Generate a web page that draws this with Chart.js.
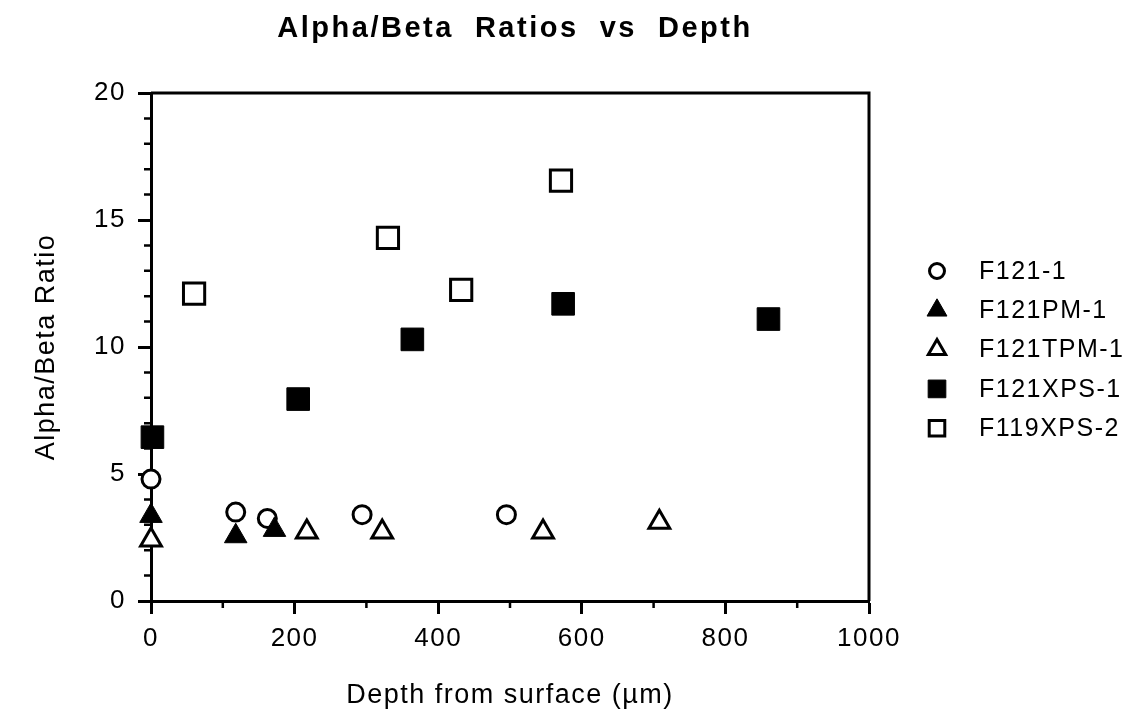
<!DOCTYPE html>
<html>
<head>
<meta charset="utf-8">
<title>Alpha/Beta Ratios vs Depth</title>
<script src="https://cdn.jsdelivr.net/npm/chart.js@4.4.1/dist/chart.umd.min.js"></script>
<style>
  html, body { margin: 0; padding: 0; background: #fff; }
  #wrap { width: 1129px; height: 712px; }
</style>
</head>
<body>
<div id="wrap"><canvas id="chart" width="1129" height="712"></canvas></div>
<script>
// values
const titleText = 'Alpha/Beta  Ratios  vs  Depth';
const xTitle = 'Depth from surface (\u00b5m)';
const yTitle = 'Alpha/Beta Ratio';

const seriesNames = ['F121-1', 'F121PM-1', 'F121TPM-1', 'F121XPS-1', 'F119XPS-2'];

const depthF121_1 = [0, 118, 162, 294, 495];
const ratioF121_1 = [4.8, 3.5, 3.25, 3.4, 3.4];

const depthF121PM_1 = [0, 118, 172];
const ratioF121PM_1 = [3.35, 2.55, 2.8];

const depthF121TPM_1 = [0, 217, 322, 546, 708];
const ratioF121TPM_1 = [2.4, 2.72, 2.72, 2.72, 3.1];

const depthF121XPS_1 = [2, 205, 364, 574, 860];
const ratioF121XPS_1 = [6.45, 7.95, 10.3, 11.7, 11.1];

const depthF119XPS_2 = [60, 330, 432, 571];
const ratioF119XPS_2 = [12.1, 14.3, 12.25, 16.55];

const xMajorTicks = [0, 200, 400, 600, 800, 1000];
const xMinorTicks = [100, 300, 500, 700, 900];
const yMajorTicks = [0, 5, 10, 15, 20];
const yMinorTicks = [1, 2, 3, 4, 6, 7, 8, 9, 11, 12, 13, 14, 16, 17, 18, 19];

const FONT = "'Liberation Sans', Arial, Helvetica, sans-serif";

function toPoints(xs, ys) {
  return xs.map((x, i) => ({ x: x, y: ys[i] }));
}

const common = { showLine: false, clip: false, borderColor: '#000' };

const datasets = [
  { ...common, label: seriesNames[0], data: toPoints(depthF121_1, ratioF121_1),
    pointStyle: 'circle', pointRadius: 9, borderWidth: 3, backgroundColor: '#fff', order: 1, legendRadius: 7.5 },
  { ...common, label: seriesNames[1], data: toPoints(depthF121PM_1, ratioF121PM_1),
    pointStyle: 'triangle', pointRadius: 13, borderWidth: 1, backgroundColor: '#000', order: 0, legendRadius: 11.5 },
  { ...common, label: seriesNames[2], data: toPoints(depthF121TPM_1, ratioF121TPM_1),
    pointStyle: 'triangle', pointRadius: 12, borderWidth: 3, backgroundColor: '#fff', order: 0, legendRadius: 10 },
  { ...common, label: seriesNames[3], data: toPoints(depthF121XPS_1, ratioF121XPS_1),
    pointStyle: 'rect', pointRadius: 16, borderWidth: 1, backgroundColor: '#000', order: 0, legendRadius: 12.5 },
  { ...common, label: seriesNames[4], data: toPoints(depthF119XPS_2, ratioF119XPS_2),
    pointStyle: 'rect', pointRadius: 15, borderWidth: 3, backgroundColor: '#fff', order: 0, legendRadius: 11 }
];

// the old figure has loosely spaced lettering
const spacing = {
  id: 'spacing',
  beforeLayout(chart) { chart.ctx.letterSpacing = '1.5px'; },
  beforeDraw(chart) { chart.ctx.letterSpacing = '1.5px'; }
};

// box frame, minor ticks, title and legend
const decor = {
  id: 'decor',
  beforeDatasetsDraw(chart) {
    const { ctx, chartArea: a, scales } = chart;
    ctx.save();
    ctx.strokeStyle = '#000';
    ctx.lineWidth = 3;
    ctx.beginPath();
    ctx.moveTo(a.left, a.top);
    ctx.lineTo(a.right, a.top);
    ctx.lineTo(a.right, a.bottom);
    ctx.stroke();

    ctx.lineWidth = 2.5;
    ctx.beginPath();
    xMinorTicks.forEach(v => {
      const px = scales.x.getPixelForValue(v);
      ctx.moveTo(px, a.bottom);
      ctx.lineTo(px, a.bottom + 7);
    });
    yMinorTicks.forEach(v => {
      const py = scales.y.getPixelForValue(v);
      ctx.moveTo(a.left, py);
      ctx.lineTo(a.left - 7, py);
    });
    ctx.stroke();
    ctx.restore();
  },
  afterDraw(chart) {
    const { ctx, chartArea: a } = chart;
    ctx.save();
    ctx.fillStyle = '#000';

    // title
    ctx.font = 'bold 29px ' + FONT;
    ctx.letterSpacing = '2.5px';
    ctx.textAlign = 'center';
    ctx.textBaseline = 'alphabetic';
    ctx.fillText(titleText, (a.left + a.right) / 2 + 5, 37);

    // legend
    ctx.letterSpacing = '1.5px';
    ctx.font = '25px ' + FONT;
    ctx.textAlign = 'left';
    ctx.textBaseline = 'middle';
    chart.data.datasets.forEach((ds, i) => {
      const y = 271 + i * 39.3;
      const mx = a.right + 68;
      ctx.fillStyle = ds.backgroundColor;
      ctx.strokeStyle = ds.borderColor;
      ctx.lineWidth = ds.borderWidth;
      Chart.helpers.drawPoint(ctx, {
        pointStyle: ds.pointStyle,
        radius: ds.legendRadius,
        borderWidth: ds.borderWidth,
        rotation: 0
      }, mx, y);
      ctx.fillStyle = '#000';
      ctx.fillText(ds.label, a.right + 110, y + 1);
    });
    ctx.restore();
  }
};

new Chart(document.getElementById('chart'), {
  type: 'scatter',
  data: { datasets },
  options: {
    responsive: false,
    animation: false,
    events: [],
    layout: { padding: { left: 0, right: 260, top: 93, bottom: 0 } },
    plugins: {
      legend: { display: false },
      title: { display: false },
      tooltip: { enabled: false }
    },
    scales: {
      x: {
        type: 'linear',
        min: 0,
        max: 1000,
        afterBuildTicks: s => { s.ticks = xMajorTicks.map(v => ({ value: v })); },
        afterFit: s => { s.height = 111; },
        grid: { drawOnChartArea: false, drawTicks: true, tickLength: 13, tickWidth: 3, tickColor: '#000' },
        border: { display: true, color: '#000', width: 3 },
        ticks: { color: '#000', font: { family: FONT, size: 26 }, padding: 9, maxRotation: 0,
                 callback: v => String(v) },
        title: { display: true, text: xTitle, color: '#000', font: { family: FONT, size: 27 }, padding: { top: 7, bottom: 0 } }
      },
      y: {
        type: 'linear',
        min: 0,
        max: 20,
        afterBuildTicks: s => { s.ticks = yMajorTicks.map(v => ({ value: v })); },
        afterFit: s => { s.width = 151; },
        grid: { drawOnChartArea: false, drawTicks: true, tickLength: 13, tickWidth: 3, tickColor: '#000' },
        border: { display: true, color: '#000', width: 3 },
        ticks: { color: '#000', font: { family: FONT, size: 26 }, padding: 12, callback: v => String(v) },
        title: { display: true, text: yTitle, color: '#000', font: { family: FONT, size: 27 }, padding: { top: 30, bottom: 0 } }
      }
    }
  },
  plugins: [spacing, decor]
});
</script>
</body>
</html>
